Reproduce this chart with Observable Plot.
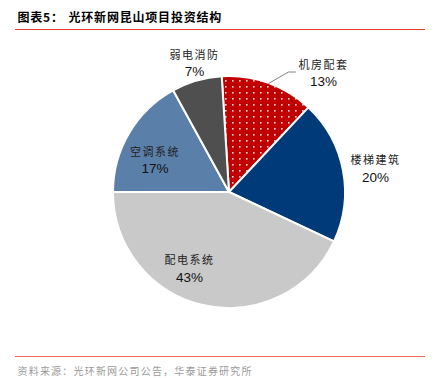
<!DOCTYPE html>
<html><head><meta charset="utf-8">
<script src="https://cdn.jsdelivr.net/npm/d3@7"></script>
<script src="https://cdn.jsdelivr.net/npm/@observablehq/plot@0.6"></script>
<style>body{margin:0;background:#fff;} svg{display:block}</style>
</head><body><div id="chart"></div>
<script>
// ---- data ----
const categories = ["机房配套", "楼梯建筑", "配电系统", "空调系统", "弱电消防"];
const shares = [13, 20, 43, 17, 7];
const pctLabels = ["13%", "20%", "43%", "17%", "7%"];
const colors = ["#C00000", "#003A78", "#C9C9C9", "#5A7FA8", "#4F4F4F"];
const titlePrefix = "图表5：";
const titleText = "光环新网昆山项目投资结构";
const sourceText = "资料来源：光环新网公司公告，华泰证券研究所";

// ---- layout ----
const W = 447, H = 378, CX = 229, CY = 192, R = 116, START = -3.6;
// label placement (angle from top clockwise in degrees, distance in px from pie centre)
const labelPolar = [[38.3, 151.6], [80.9, 147.9], [207.6, 86.3], [293.2, 81], [344.8, 133.7]];

const rows = categories.map((c, i) => ({category: c, share: shares[i], pct: pctLabels[i], color: colors[i]}));
const pie = d3.pie().sort(null).value(d => d.share)
  .startAngle(START * Math.PI / 180).endAngle((360 + START) * Math.PI / 180);
const arcs = pie(rows);

const polar = (deg, dist) => {
  const a = deg * Math.PI / 180;
  return [CX + dist * Math.sin(a), CY - dist * Math.cos(a)];
};
rows.forEach((d, i) => {
  const [lx, ly] = polar(labelPolar[i][0], labelPolar[i][1]);
  d.lx = lx; d.ly = ly;
});

// leader line for the first slice (机房配套)
const a0 = arcs[0];
const mid0 = ((a0.startAngle + a0.endAngle) / 2) * 180 / Math.PI;
const [sx, sy] = polar(mid0, R);
const leader = [
  {x: sx, y: sy},
  {x: rows[0].lx - 35, y: rows[0].ly - 1.5},
  {x: rows[0].lx - 28, y: rows[0].ly - 1.5}
];

const rules = [
  {y: 29, x1: 15, x2: 425, c: "#E8432E"},
  {y: 356, x1: 15, x2: 425, c: "#EE6A5A"}
];

const pieMark = (index, scales) => {
  const {x, y} = scales;
  const g = d3.create("svg:g");
  const defs = g.append("defs");
  const pat = defs.append("pattern").attr("id", "dots").attr("patternUnits", "userSpaceOnUse")
    .attr("width", 7).attr("height", 6);
  pat.append("rect").attr("width", 7).attr("height", 6).attr("fill", colors[0]);
  pat.append("rect").attr("x", 3).attr("y", 2).attr("width", 1.6).attr("height", 1.6).attr("fill", "#ffffff").attr("fill-opacity", 0.85);
  const r = x(CX + R) - x(CX);
  const arc = d3.arc().innerRadius(0).outerRadius(r);
  const gg = g.append("g").attr("transform", `translate(${x(CX)},${y(CY)})`);
  gg.selectAll("path").data(arcs).join("path")
    .attr("d", arc)
    .attr("fill", (d, i) => i === 0 ? "url(#dots)" : d.data.color)
    .attr("stroke", "#ffffff").attr("stroke-width", 2).attr("stroke-linejoin", "round");
  return g.node();
};

const cjk = "'Noto Sans CJK SC', 'Noto Sans', sans-serif";
const latin = "'Liberation Sans', Arial, sans-serif";

const svg = Plot.plot({
  width: W, height: H,
  margin: 0,
  x: {domain: [0, W], range: [0, W], axis: null},
  y: {domain: [0, H], range: [0, H], axis: null},
  style: {background: "#fff"},
  marks: [
    pieMark,
    Plot.line(leader, {x: "x", y: "y", stroke: "#808080", strokeWidth: 1}),
    Plot.text(rows, {x: "lx", y: d => d.ly - 8.5, text: "category", fontFamily: cjk, fontSize: 11, fill: "#222", textAnchor: "middle", lineAnchor: "middle"}),
    Plot.text(rows, {x: "lx", y: d => d.ly + 8.5, text: "pct", fontFamily: latin, fontSize: 13.5, fill: "#111", textAnchor: "middle", lineAnchor: "middle"}),
    Plot.ruleY(rules, {y: "y", x1: "x1", x2: "x2", stroke: "c", strokeWidth: 1.2}),
    Plot.text([titlePrefix], {x: () => 17, y: () => 18, text: d => d, fontFamily: cjk, fontSize: 12, fontWeight: "bold", fill: "#000", textAnchor: "start", lineAnchor: "middle"}),
    Plot.text([titleText], {x: () => 68, y: () => 18, text: d => d, fontFamily: cjk, fontSize: 12, fontWeight: "bold", fill: "#000", textAnchor: "start", lineAnchor: "middle"}),
    Plot.text([sourceText], {x: () => 17, y: () => 371.5, text: d => d, fontFamily: cjk, fontSize: 10, fill: "#9a9a9a", textAnchor: "start", lineAnchor: "middle"})
  ]
});

d3.select(svg).selectAll("text").each(function () {
  const t = this.textContent;
  if (t === titleText || t === titlePrefix) this.setAttribute("letter-spacing", "0.8");
  else if (t === sourceText) this.setAttribute("letter-spacing", "1.2");
  else if (categories.includes(t)) this.setAttribute("letter-spacing", "1.5");
});

document.getElementById("chart").appendChild(svg);
</script>
</body></html>
